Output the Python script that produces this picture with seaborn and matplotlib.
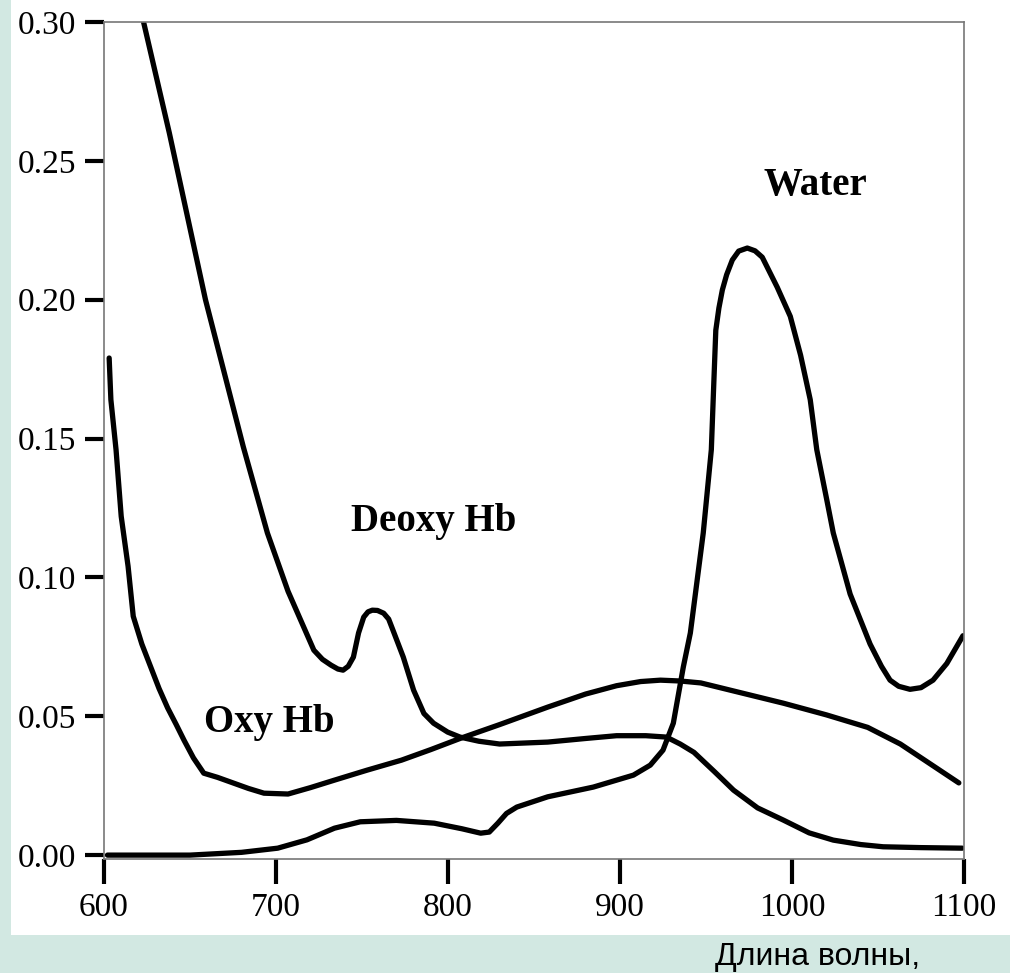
import numpy as np
import matplotlib
matplotlib.use('Agg')
import matplotlib.pyplot as plt
import seaborn as sns
from matplotlib.patches import Rectangle

# Deoxy Hb
deoxy_x = [616, 623, 638, 659, 681, 695, 707, 722, 727, 732, 736, 739, 742, 745, 748, 751, 753.5, 756,
           759, 762.6, 765.5, 768, 774, 780, 786, 791.6, 799.8, 807, 818, 830, 858, 880, 898, 915, 927,
           935, 943, 955, 966, 980, 995, 1010, 1024, 1040, 1053, 1075, 1099]
deoxy_y = [0.322, 0.300, 0.260, 0.200, 0.147, 0.116, 0.095, 0.0738, 0.0705, 0.0684, 0.0670, 0.0666,
           0.0680, 0.0713, 0.080, 0.0857, 0.0876, 0.0882, 0.0881, 0.0871, 0.0850, 0.081, 0.0713, 0.0594,
           0.051, 0.0475, 0.0443, 0.0425, 0.0410, 0.040, 0.0407, 0.042, 0.043, 0.043, 0.0425, 0.040,
           0.037, 0.030, 0.0234, 0.017, 0.0126, 0.008, 0.0054, 0.0038, 0.003, 0.0027, 0.0025]

# Oxy Hb
oxy_x = [603, 604, 606, 607, 610, 614, 617, 622, 627, 632, 637, 642, 646.5, 652, 658, 666, 675, 684, 693,
         707, 720, 734, 753, 773, 790, 807, 830, 858, 880, 898, 912, 923.5, 935, 947, 970, 995, 1020,
         1044, 1063, 1080, 1097]
oxy_y = [0.179, 0.164, 0.152, 0.146, 0.122, 0.104, 0.086, 0.076, 0.068, 0.060, 0.053, 0.047, 0.0414,
         0.035, 0.0295, 0.028, 0.026, 0.024, 0.0223, 0.022, 0.0243, 0.027, 0.0306, 0.0342, 0.038, 0.042,
         0.047, 0.0533, 0.058, 0.061, 0.0625, 0.063, 0.0627, 0.062, 0.0585, 0.0547, 0.0505, 0.046,
         0.040, 0.033, 0.026]

# Water
water_x = [602, 650, 680, 701, 718, 734, 749, 770, 792, 808, 819, 824, 829, 834, 840, 858, 884.5, 907.8,
           917.6, 925, 931, 936.8, 940.9, 948.4, 953.1, 954.6, 955.7, 957.5, 959.5, 962, 965.3, 969, 974,
           978.5, 982.7, 991.4, 999, 1005, 1010.6, 1014.4, 1020.2, 1024, 1033.8, 1045.4, 1052, 1057,
           1062, 1068.6, 1075, 1082, 1090, 1099.4]
water_y = [0.0, 0.0, 0.001, 0.0025, 0.0055, 0.0097, 0.012, 0.0125, 0.0115, 0.0095, 0.0079, 0.0083,
           0.0115, 0.0150, 0.0173, 0.021, 0.0245, 0.0288, 0.0324, 0.0378, 0.0475, 0.0677, 0.080, 0.116,
           0.146, 0.171, 0.189, 0.197, 0.2035, 0.209, 0.2143, 0.2175, 0.2186, 0.2176, 0.2153, 0.2045,
           0.194, 0.180, 0.164, 0.146, 0.128, 0.116, 0.094, 0.076, 0.068, 0.063, 0.0608, 0.0597,
           0.0603, 0.063, 0.069, 0.079]

x_ticks = [600, 700, 800, 900, 1000, 1100]
y_ticks = [0.00, 0.05, 0.10, 0.15, 0.20, 0.25, 0.30]

sns.set_style('ticks')
plt.rcParams['font.family'] = ['Liberation Serif', 'DejaVu Serif']
plt.rcParams['text.color'] = 'black'
plt.rcParams['xtick.labelcolor'] = 'black'
plt.rcParams['ytick.labelcolor'] = 'black'

fig = plt.figure(figsize=(10.10, 9.73), dpi=100)
fig.patch.set_facecolor('#d2e8e2')
fig.patches.append(Rectangle((11 / 1010, 38 / 973), 1, 1, transform=fig.transFigure,
                             facecolor='white', edgecolor='none', zorder=-10))

ax = fig.add_axes([104 / 1010, 114 / 973, 860 / 1010, 837 / 973])
ax.set_zorder(5)
ax.set_facecolor('white')

for xs, ys in [(deoxy_x, deoxy_y), (oxy_x, oxy_y), (water_x, water_y)]:
    sns.lineplot(x=xs, y=ys, ax=ax, color='black', linewidth=3.8, estimator=None,
                 solid_joinstyle='round', solid_capstyle='round')

ax.set_xlim(600, 1100)
ax.set_ylim(-0.0014, 0.30)
ax.set_xticks(x_ticks)
ax.set_xticklabels([str(t) for t in x_ticks])
ax.set_yticks(y_ticks)
ax.set_yticklabels([f'{t:.2f}' for t in y_ticks])

for s in ax.spines.values():
    s.set_color('#777777')
    s.set_linewidth(1.2)

ax.tick_params(axis='y', direction='out', length=14, width=3, color='black',
               labelcolor='black', labelsize=24, pad=6)
ax.tick_params(axis='x', direction='out', length=18, width=3, color='black',
               labelcolor='black', labelsize=24, pad=6)

bold = dict(fontsize=28, fontweight='bold', ha='center', va='center', color='black')
ax.text(1013.5, 0.2413, 'Water', **bold)
ax.text(791.6, 0.1203, 'Deoxy Hb', **bold)
ax.text(696.4, 0.0479, 'Oxy Hb', **bold)

fig.text(818 / 1010, 1 - 957 / 973, 'Длина волны,', family=['Liberation Sans', 'DejaVu Sans'],
         fontsize=23, ha='center', va='center', color='black', zorder=10)

fig.savefig('out.png', dpi=100, facecolor=fig.get_facecolor())
